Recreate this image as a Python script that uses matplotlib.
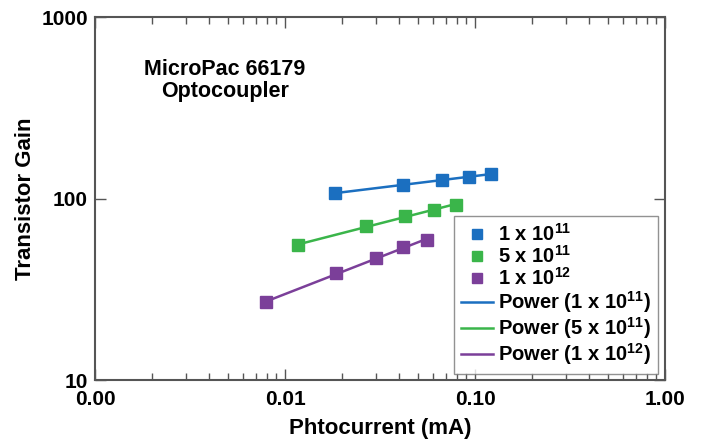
import numpy as np
import matplotlib.pyplot as plt
from matplotlib.ticker import FixedLocator, FixedFormatter, LogLocator, NullLocator, NullFormatter

plt.rcParams['font.family'] = ['Liberation Sans', 'DejaVu Sans']
plt.rcParams['font.weight'] = 'bold'
plt.rcParams['mathtext.fontset'] = 'custom'
plt.rcParams['mathtext.rm'] = 'Liberation Sans:bold'
plt.rcParams['mathtext.bf'] = 'Liberation Sans:bold'
plt.rcParams['mathtext.default'] = 'bf'

# Photocurrent (mA) and transistor gain for each fluence
x_1e11 = [0.0184, 0.042, 0.0674, 0.093, 0.121]
y_1e11 = [107, 119, 126.6, 132, 136]
x_5e11 = [0.01165, 0.0268, 0.043, 0.061, 0.079]
y_5e11 = [55.3, 70.4, 80, 86.7, 92.4]
x_1e12 = [0.00795, 0.0186, 0.0302, 0.042, 0.0558]
y_1e12 = [26.8, 38.8, 47, 53.9, 58.9]

series_labels = [r'1 x 10$^{11}$', r'5 x 10$^{11}$', r'1 x 10$^{12}$']
colors = ['#1b6fc0', '#3ab54a', '#7b3f99']

x_ticks = [0.001, 0.01, 0.1, 1]
x_ticklabels = ['0.00', '0.01', '0.10', '1.00']
y_ticks = [10, 100, 1000]
y_ticklabels = ['10', '100', '1000']

fig = plt.figure(figsize=(7.12, 4.42), dpi=100)
ax = fig.add_axes([95 / 712, 62 / 442, 570 / 712, 363 / 442])

data = [(x_1e11, y_1e11), (x_5e11, y_5e11), (x_1e12, y_1e12)]
marker_handles = []
line_handles = []
for (xs, ys), lab, c in zip(data, series_labels, colors):
    xs = np.array(xs)
    ys = np.array(ys)
    # power trendline fitted in log space
    b, a = np.polyfit(np.log10(xs), np.log10(ys), 1)
    xf = np.array([xs.min(), xs.max()])
    yf = 10 ** a * xf ** b
    ln, = ax.plot(xf, yf, color=c, lw=1.8, zorder=2,
                  label='Power (' + lab + ')')
    mk, = ax.plot(xs, ys, 's', color=c, ms=9, mec=c, zorder=3,
                  linestyle='none', label=lab)
    marker_handles.append(mk)
    line_handles.append(ln)

ax.set_xscale('log')
ax.set_yscale('log')
ax.set_xlim(0.001, 1)
ax.set_ylim(10, 1000)

ax.xaxis.set_major_locator(FixedLocator(x_ticks))
ax.xaxis.set_major_formatter(FixedFormatter(x_ticklabels))
ax.xaxis.set_minor_locator(LogLocator(base=10, subs=np.arange(2, 10)))
ax.xaxis.set_minor_formatter(NullFormatter())
ax.yaxis.set_major_locator(FixedLocator(y_ticks))
ax.yaxis.set_major_formatter(FixedFormatter(y_ticklabels))
ax.yaxis.set_minor_locator(NullLocator())

ax.tick_params(which='both', direction='in', top=True, right=True,
               color='#555555', labelsize=15)
ax.tick_params(which='major', length=8, width=1)
ax.tick_params(which='minor', length=5, width=1)
ax.tick_params(axis='x', pad=7)
ax.tick_params(axis='y', pad=5)
for s in ax.spines.values():
    s.set_color('#555555')
    s.set_linewidth(1.5)

ax.set_xlabel('Phtocurrent (mA)', fontsize=16, fontweight='bold', labelpad=6.5)
ax.set_ylabel('Transistor Gain', fontsize=16, fontweight='bold', labelpad=4)

ax.text(0.228, 0.825, 'MicroPac 66179\nOptocoupler', transform=ax.transAxes,
        ha='center', va='center', fontsize=15.5, fontweight='bold',
        linespacing=1.1)

leg = ax.legend(handles=marker_handles + line_handles, loc='lower right',
                bbox_to_anchor=(0.988, 0.017), borderaxespad=0,
                fontsize=14.5, frameon=True, fancybox=False,
                edgecolor='#777777', handlelength=1.6, handletextpad=0.25,
                labelspacing=0.0, borderpad=0.35, markerscale=0.85)
leg.get_frame().set_linewidth(1.0)

fig.savefig('out.png', dpi=100)
